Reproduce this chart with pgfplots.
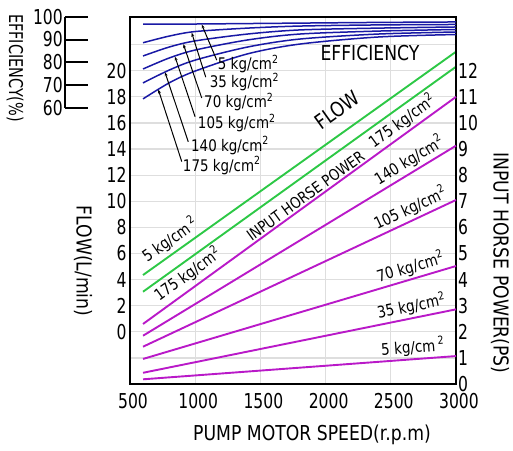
\documentclass[border=0pt]{standalone}
\usepackage{fontspec}
\setmainfont{DejaVu Sans}[FakeStretch=0.84]
\newfontfamily\numfont{DejaVu Sans}[FakeStretch=0.76]
\usepackage{pgfplots}
\pgfplotsset{compat=1.18}
\usetikzlibrary{arrows.meta}
\definecolor{effblue}{RGB}{25,25,165}
\definecolor{flowgreen}{RGB}{45,200,70}
\definecolor{powmag}{RGB}{185,25,200}
\newcommand{\bigf}{\fontsize{20.5}{24}\selectfont}
\newcommand{\kgf}{\fontsize{16}{19}\selectfont}
\pgfplotsset{base/.style={scale only axis, width=326pt, height=367pt, xmin=500, xmax=3000,
  /pgf/number format/assume math mode=true, /pgf/number format/1000 sep={},
  major tick length=0pt, clip=false,
  ticklabel style={font=\numfont\fontsize{20.5}{24}\selectfont}}}
\begin{document}
\begin{tikzpicture}
\useasboundingbox (-130pt,-66pt) rectangle (383pt,384pt);
% ---------- flow axis (left), box and grid ----------
\begin{axis}[base, ymin=-4, ymax=24.12,
  ytick={-2,0,2,4,6,8,10,12,14,16,18,20,22},
  yticklabels={{},0,2,4,6,8,10,12,14,16,18,20,{}},
  xtick={500,1000,1500,2000,2500,3000},
  xticklabel style={xshift=3pt, yshift=-6pt},
  grid=major, major grid style={black!13, line width=1.2pt},
  axis line style={line width=2pt}]
\addplot[flowgreen, line width=1.9pt] coordinates {(600,4.35) (3000,21.46)}
  node[pos=0.11, sloped, above, inner sep=3pt, black, font=\kgf] {5 kg/cm\,\textsuperscript{2}}
  node[pos=0.66, sloped, above=12pt, inner sep=1pt, black, font=\bigf] {FLOW};
\addplot[flowgreen, line width=1.9pt] coordinates {(600,3.07) (3000,20.31)}
  node[pos=0.12, sloped, below, inner sep=2pt, black, font=\kgf] {175 kg/cm\textsuperscript{2}};
\end{axis}
% ---------- power axis (right) ----------
\begin{axis}[base, ymin=0, ymax=14.06, axis x line=none, axis y line*=right,
  axis line style={line width=2pt, -},
  ytick={0,1,...,12}, yticklabel style={inner sep=2pt}]
\addplot[powmag, line width=1.9pt] coordinates {(600,2.30) (3000,11.0)}
  node[pos=0.85, sloped, above, inner sep=2pt, black, font=\kgf] {175 kg/cm\textsuperscript{2}}
  node[pos=0.535, sloped, above, inner sep=1.5pt, black, font=\fontsize{15.5}{18}\selectfont] {INPUT HORSE POWER};
\addplot[powmag, line width=1.9pt] coordinates {(600,1.85) (3000,9.13)}
  node[pos=0.87, sloped, above, inner sep=2pt, black, font=\kgf] {140 kg/cm\textsuperscript{2}};
\addplot[powmag, line width=1.9pt] coordinates {(600,1.43) (3000,7.05)}
  node[pos=0.87, sloped, above, inner sep=2pt, black, font=\kgf] {105 kg/cm\textsuperscript{2}};
\addplot[powmag, line width=1.9pt] coordinates {(600,0.96) (3000,4.52)}
  node[pos=0.865, sloped, above, inner sep=2pt, black, font=\kgf] {70 kg/cm\textsuperscript{2}};
\addplot[powmag, line width=1.9pt] coordinates {(600,0.43) (3000,2.86)}
  node[pos=0.865, sloped, above, inner sep=2pt, black, font=\kgf] {35 kg/cm\textsuperscript{2}};
\addplot[powmag, line width=1.9pt] coordinates {(600,0.18) (3000,1.07)}
  node[pos=0.865, sloped, above, inner sep=2pt, black, font=\kgf] {5 kg/cm\,\textsuperscript{2}};
\end{axis}
% ---------- efficiency curves ----------
\begin{axis}[base, ymin=-60.9, ymax=99.87, hide axis]
\addplot[effblue, line width=1.5pt, smooth] coordinates {(600,96.8) (800,96.8) (1000,96.8) (1400,97.0) (1800,97.2) (2400,97.5) (3000,97.7)};
\addplot[effblue, line width=1.5pt, smooth] coordinates {(600,88.6) (800,91.5) (1000,93.5) (1400,95.0) (1800,95.9) (2400,96.4) (3000,96.6)};
\addplot[effblue, line width=1.5pt, smooth] coordinates {(600,82.8) (800,86.7) (1000,89.4) (1400,92.4) (1800,94.2) (2400,95.0) (3000,95.5)};
\addplot[effblue, line width=1.5pt, smooth] coordinates {(600,77.1) (800,81.9) (1000,85.4) (1400,89.8) (1800,92.4) (2400,93.7) (3000,94.4)};
\addplot[effblue, line width=1.5pt, smooth] coordinates {(600,71.0) (800,76.6) (1000,81.0) (1400,86.7) (1800,90.2) (2400,92.4) (3000,93.3)};
\addplot[effblue, line width=1.5pt, smooth] coordinates {(600,64.0) (800,71.0) (1000,76.2) (1400,83.7) (1800,88.0) (2400,91.1) (3000,92.2)};
\begin{scope}[line width=1pt, -{Stealth[length=4pt,width=3pt]}]
\draw (axis cs:1165,81.0) -- (axis cs:1050,96.6);
\draw (axis cs:1081,73.5) -- (axis cs:973,93.0);
\draw (axis cs:1050,64.4) -- (axis cs:909,88.0);
\draw (axis cs:999,56.2) -- (axis cs:845,82.5);
\draw (axis cs:947,45.2) -- (axis cs:768,75.7);
\draw (axis cs:897,36.5) -- (axis cs:717,68.1);
\end{scope}
\node[anchor=west, font=\kgf, inner sep=1pt] at (axis cs:1165,79.4) {5 kg/cm\textsuperscript{2}};
\node[anchor=west, font=\kgf, inner sep=1pt] at (axis cs:1103,71.3) {35 kg/cm\textsuperscript{2}};
\node[anchor=west, font=\kgf, inner sep=1pt] at (axis cs:1060,62.6) {70 kg/cm\textsuperscript{2}};
\node[anchor=west, font=\kgf, inner sep=1pt] at (axis cs:1012,53.4) {105 kg/cm\textsuperscript{2}};
\node[anchor=west, font=\kgf, inner sep=1pt] at (axis cs:960,43.6) {140 kg/cm\textsuperscript{2}};
\node[anchor=west, font=\kgf, inner sep=1pt] at (axis cs:897,34.8) {175 kg/cm\textsuperscript{2}};
\node[font=\bigf] at (axis cs:2340,84.3) {EFFICIENCY};
\end{axis}
% ---------- efficiency scale ----------
\begin{axis}[scale only axis, width=23pt, height=91.3pt, at={(-65pt,276pt)}, anchor=south west,
  xmin=0, xmax=1, ymin=60, ymax=100, axis x line=none, axis y line=left,
  axis line style={line width=2pt, -}, ytick={60,70,80,90,100},
  tick align=inside, major tick length=23pt, tick style={line width=2pt, black},
  /pgf/number format/assume math mode=true,
  yticklabel style={font=\numfont\fontsize{20.5}{24}\selectfont, inner sep=2pt}]
\end{axis}
% ---------- axis titles ----------
\node[rotate=-90, font=\numfont\fontsize{19}{22}\selectfont] at (-115pt,316pt) {EFFICIENCY(\%)};
\node[rotate=-90, font=\bigf] at (-47pt,123pt) {FLOW(L/min)};
\node[rotate=-90, font=\bigf] at (370pt,121pt) {INPUT HORSE POWER(PS)};
\node[font=\bigf] at (182pt,-51pt) {PUMP MOTOR SPEED(r.p.m)};
\end{tikzpicture}
\end{document}
